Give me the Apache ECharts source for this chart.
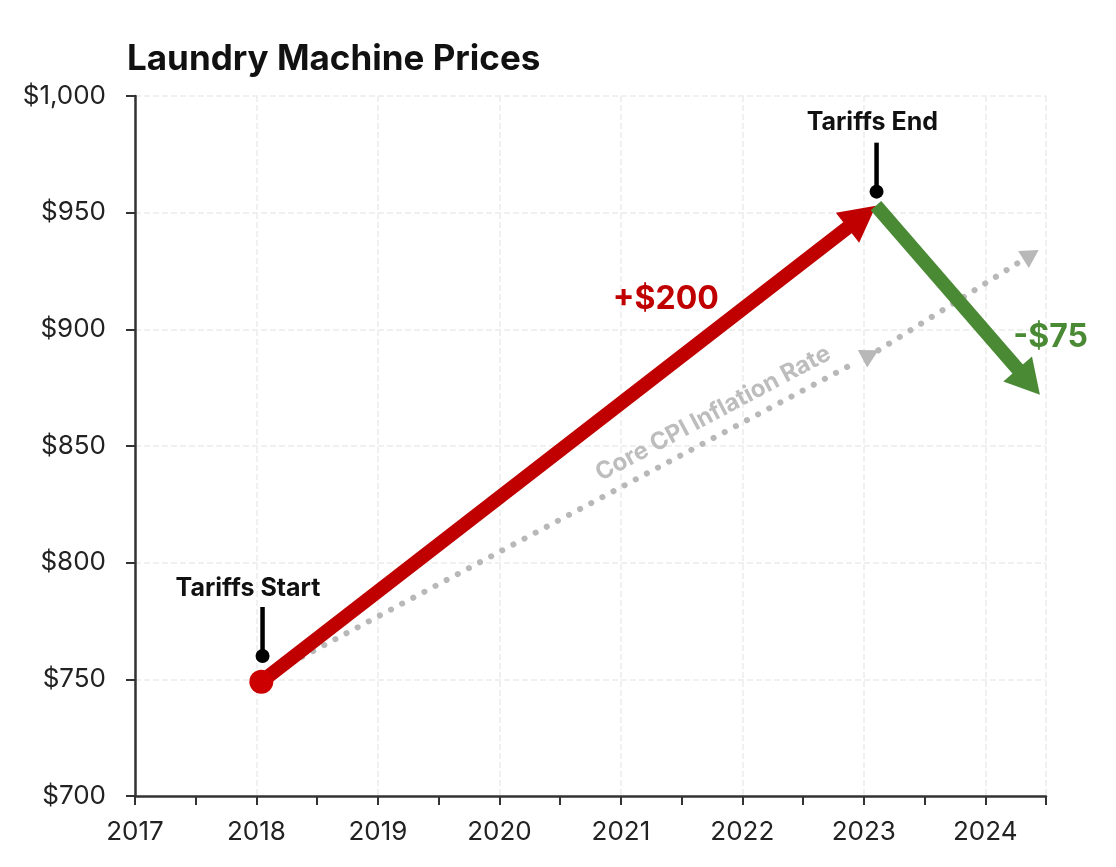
<!DOCTYPE html>
<html>
<head>
<meta charset="utf-8">
<script src="https://cdn.jsdelivr.net/npm/echarts@6/dist/echarts.min.js"></script>
<style>
html, body { margin: 0; background: #fff; }
#chart { width: 1116px; height: 867px; }
</style>
</head>
<body>
<div id="chart"></div>
<script>
// axis range
var yearMin = 2017, yearMax = 2024.5;
var priceMin = 700, priceMax = 1000, priceStep = 50;

// arrow segments [x1, y1, x2, y2]
var tariffRise = [[2018.04, 749, 2023.1, 953]];
var tariffFall = [[2023.1, 953, 2024.45, 872]];
var cpiRate = [[2018.1, 752, 2023.12, 891], [2023.12, 891, 2024.44, 934]];
var startDot = [[2018.04, 749]];

// marker stems [x, bottom, top]
var stems = [[2018.05, 760, 781], [2023.105, 959, 980]];

// annotations
var noteText = ['Tariffs Start', 'Tariffs End', '+$200', '-$75', 'Core CPI Inflation Rate'];
var notePos = [[2017.93, 789], [2023.07, 988.5], [2021.37, 913], [2024.23, 896.5], [2021.76, 864]];

var FONT = 'Inter, "Open Sans", sans-serif';
var noteStyle = [
    { color: '#111', fontSize: 25, fontWeight: 'bold' },
    { color: '#111', fontSize: 25, fontWeight: 'bold' },
    { color: '#c00000', fontSize: 32, fontWeight: 'bold' },
    { color: '#4a8a35', fontSize: 32, fontWeight: 'bold', align: 'left' },
    { color: '#bdbdbd', fontSize: 24, fontWeight: 'bold', rotate: 28 }
];

// draws a shaft + triangle head between two data points
function arrowRenderer(color, width, headLen, headWid, dash) {
    return function (params, api) {
        var a = api.coord([api.value(0), api.value(1)]);
        var b = api.coord([api.value(2), api.value(3)]);
        var dx = b[0] - a[0], dy = b[1] - a[1];
        var len = Math.sqrt(dx * dx + dy * dy);
        var ux = dx / len, uy = dy / len;
        var bx = b[0] - ux * headLen, by = b[1] - uy * headLen;
        var nx = -uy * headWid / 2, ny = ux * headWid / 2;
        var ext = dash ? -6 : 2;
        return {
            type: 'group',
            children: [
                {
                    type: 'line',
                    shape: { x1: a[0], y1: a[1], x2: bx + ux * ext, y2: by + uy * ext },
                    style: { stroke: color, lineWidth: width, lineDash: dash || null, lineCap: dash ? 'round' : 'butt', fill: null }
                },
                {
                    type: 'polygon',
                    shape: { points: [[b[0], b[1]], [bx + nx, by + ny], [bx - nx, by - ny]] },
                    style: { fill: color }
                }
            ]
        };
    };
}

function stemRenderer(params, api) {
    var lo = api.coord([api.value(0), api.value(1)]);
    var hi = api.coord([api.value(0), api.value(2)]);
    return {
        type: 'group',
        children: [
            { type: 'line', shape: { x1: hi[0], y1: hi[1], x2: lo[0], y2: lo[1] }, style: { stroke: '#000', lineWidth: 4.5 } },
            { type: 'circle', shape: { cx: lo[0], cy: lo[1], r: 7 }, style: { fill: '#000' } }
        ]
    };
}

var noteData = noteText.map(function (t, i) {
    var s = noteStyle[i];
    return {
        value: notePos[i],
        label: {
            show: true,
            position: 'inside',
            formatter: t,
            color: s.color,
            fontSize: s.fontSize,
            fontWeight: s.fontWeight,
            fontFamily: FONT,
            textBorderWidth: 0,
            textBorderColor: 'transparent',
            align: s.align || 'center',
            verticalAlign: 'middle',
            rotate: s.rotate || 0
        }
    };
});

var myChart = echarts.init(document.getElementById('chart'));

myChart.setOption({
    backgroundColor: '#fff',
    animation: false,
    title: {
        text: 'Laundry Machine Prices',
        left: 122,
        top: 37,
        textStyle: { fontFamily: FONT, fontSize: 35, fontWeight: 'bold', color: '#111' }
    },
    grid: { left: 135, right: 70, top: 96, bottom: 71 },
    xAxis: [
        {
            type: 'value',
            min: yearMin,
            max: yearMax,
            interval: 0.5,
            axisLine: { lineStyle: { color: '#333', width: 2.5 } },
            axisTick: { length: 9, lineStyle: { color: '#333', width: 2 } },
            axisLabel: {
                margin: 23,
                fontSize: 26,
                fontFamily: FONT,
                color: '#222',
                formatter: function (v) { return v % 1 === 0 ? String(v) : ''; }
            },
            splitLine: { show: false }
        },
        {
            // year grid lines only
            type: 'value',
            min: yearMin,
            max: yearMax,
            interval: 1,
            axisLine: { show: false },
            axisTick: { show: false },
            axisLabel: { show: false },
            splitLine: { show: true, lineStyle: { color: '#ececec', type: 'dashed', width: 1.5 } }
        }
    ],
    yAxis: {
        type: 'value',
        min: priceMin,
        max: priceMax,
        interval: priceStep,
        axisLine: { show: true, lineStyle: { color: '#333', width: 2.5 } },
        axisTick: { show: true, length: 9, lineStyle: { color: '#333', width: 2 } },
        axisLabel: {
            margin: 29,
            fontSize: 26,
            fontFamily: FONT,
            color: '#222',
            formatter: function (v) { return '$' + v.toLocaleString('en-US'); }
        },
        splitLine: { show: true, lineStyle: { color: '#ececec', type: 'dashed', width: 1.5 } }
    },
    series: [
        {
            name: 'Core CPI',
            type: 'custom',
            renderItem: arrowRenderer('#b8b8b8', 6, 18, 20, [0.1, 12.5]),
            encode: { x: [0, 2], y: [1, 3] },
            data: cpiRate,
            z: 2
        },
        {
            name: 'Tariff rise',
            type: 'custom',
            renderItem: arrowRenderer('#c00000', 14, 36, 38),
            encode: { x: [0, 2], y: [1, 3] },
            data: tariffRise,
            z: 3
        },
        {
            name: 'Tariff end',
            type: 'custom',
            renderItem: arrowRenderer('#4a8a35', 14, 34, 38),
            encode: { x: [0, 2], y: [1, 3] },
            data: tariffFall,
            z: 3
        },
        {
            name: 'Start',
            type: 'scatter',
            data: startDot,
            symbolSize: 24,
            itemStyle: { color: '#cc0000', opacity: 1 },
            z: 4
        },
        {
            name: 'Stems',
            type: 'custom',
            renderItem: stemRenderer,
            encode: { x: 0, y: [1, 2] },
            data: stems,
            z: 4
        },
        {
            name: 'Notes',
            type: 'scatter',
            data: noteData,
            symbolSize: 0,
            itemStyle: { opacity: 1 },
            clip: false,
            silent: true,
            z: 5
        }
    ]
});
</script>
</body>
</html>
